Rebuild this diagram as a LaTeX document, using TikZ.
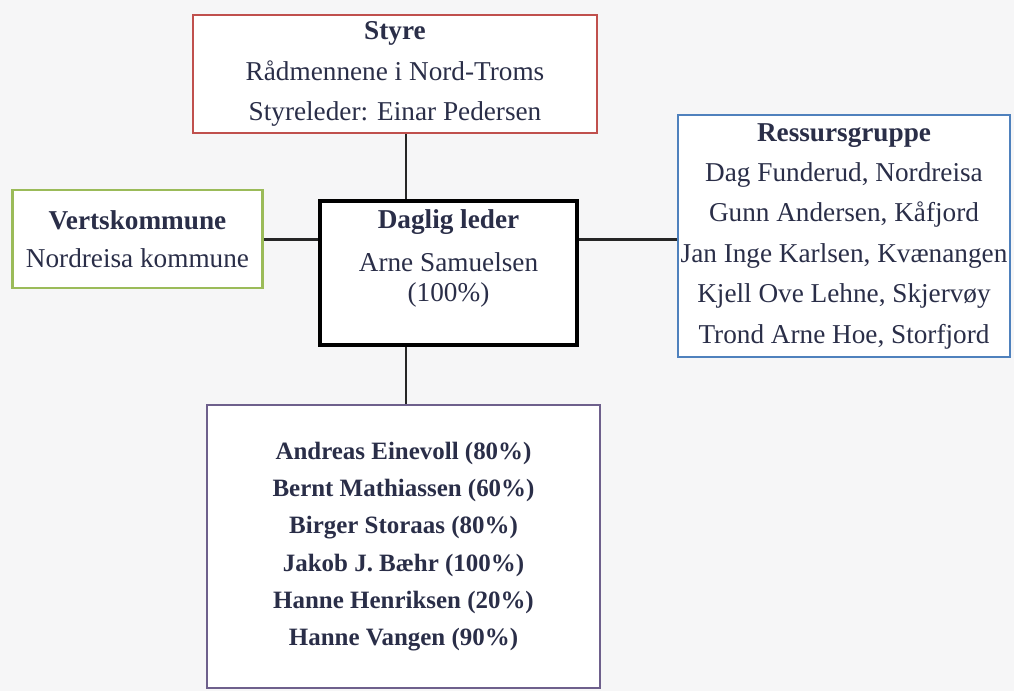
\documentclass[tikz,border=0pt]{standalone}
\usepackage{fontspec}
\setmainfont{Liberation Serif}
\usetikzlibrary{calc}
\definecolor{txtcol}{RGB}{42,46,72}
\definecolor{styrered}{RGB}{192,80,77}
\definecolor{vertgreen}{RGB}{155,187,89}
\definecolor{ressblue}{RGB}{79,129,189}
\definecolor{ansattpurple}{RGB}{110,96,140}
\definecolor{scanbg}{RGB}{246,246,247}

\begin{document}
\begin{tikzpicture}[x=0.02cm,y=-0.02cm,
		box/.style={draw,fill=white,line width=1.6pt,align=center,inner sep=0pt,
			text=txtcol,font=\fontsize{15.5}{23}\selectfont},
		link/.style={line width=1.7pt,black!85}]
		% ===== Page frame (scan size) =====
		\fill[scanbg] (0,0) rectangle (1014,691);
		\useasboundingbox (0,0) rectangle (1014,691);
		% ===== TOP: Styre =====
		\node[box,draw=styrered,minimum width=8.08cm,minimum height=2.36cm] (styre) at (395,74)
			{\textbf{Styre}\\ Rådmennene i Nord-Troms\\ Styreleder: Einar Pedersen};
		% ===== LEFT: Vertskommune =====
		\node[box,draw=vertgreen,minimum width=5.0cm,minimum height=1.96cm] (vert) at (137.5,239)
			{\textbf{Vertskommune}\\[-0.05cm] Nordreisa kommune};
		% ===== CENTRE: Daglig leder =====
		\node[box,draw=black,line width=2.6pt,minimum width=5.14cm,minimum height=2.88cm] (leder) at (448.5,273)
			{\textbf{Daglig leder}\\[0.05cm] Arne Samuelsen\\[-0.2cm] (100\%)\\[-0.1cm]\mbox{}};
		% ===== RIGHT: Ressursgruppe =====
		\node[box,draw=ressblue,minimum width=6.64cm,minimum height=4.84cm] (ressurs) at (844,236)
			{\textbf{Ressursgruppe}\\ Dag Funderud, Nordreisa\\ Gunn Andersen, Kåfjord\\
			 Jan Inge Karlsen, Kvænangen\\ Kjell Ove Lehne, Skjervøy\\ Trond Arne Hoe, Storfjord};
		% ===== BOTTOM: Ansatte =====
		\node[box,draw=ansattpurple,minimum width=7.86cm,minimum height=5.66cm,
			font=\bfseries\fontsize{14.2}{21.2}\selectfont] (ansatte) at (403.5,546.5)
			{Andreas Einevoll (80\%)\\ Bernt Mathiassen (60\%)\\ Birger Storaas (80\%)\\
			 Jakob J. Bæhr (100\%)\\ Hanne Henriksen (20\%)\\ Hanne Vangen (90\%)};
		% ===== Connectors =====
		\coordinate (spinetop) at ($(leder.north)+(-42.5,0)$);
		\coordinate (spinebot) at ($(leder.south)+(-42.5,0)$);
		\draw[link] (spinetop) -- (spinetop |- styre.south);
		\draw[link] (spinebot) -- (spinebot |- ansatte.north);
		\draw[link] (vert.east) -- (vert.east -| leder.west);
		\draw[link] (vert.east -| leder.east) -- (vert.east -| ressurs.west);
	\end{tikzpicture}
\end{document}
